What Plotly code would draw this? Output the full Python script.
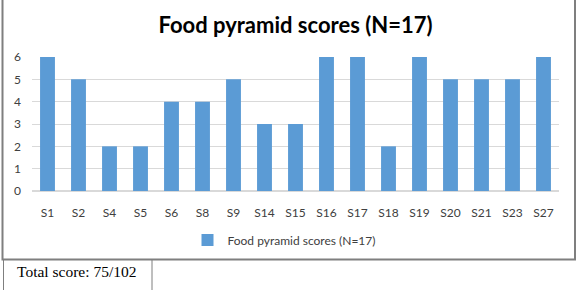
import plotly.graph_objects as go

categories = ["S1", "S2", "S4", "S5", "S6", "S8", "S9", "S14", "S15", "S16",
              "S17", "S18", "S19", "S20", "S21", "S23", "S27"]
scores = [6, 5, 2, 2, 4, 4, 5, 3, 3, 6, 6, 2, 6, 5, 5, 5, 6]
series_name = "Food pyramid scores (N=17)"
chart_title = "Food pyramid scores (N=17)"
y_ticks = [0, 1, 2, 3, 4, 5, 6]
footer_text = "Total score: 75/102"

W, H = 582, 290
L, R, T, B = 32, 23, 57, 99
pw = W - L - R
ph = H - T - B

def px_x(x):
    return (x - L) / pw

def px_y(y):
    return (H - B - y) / ph

font = "Lato, Open Sans, sans-serif"

fig = go.Figure()
fig.add_trace(go.Bar(
    x=categories, y=scores, name=series_name,
    marker=dict(color="#5B9BD5", line=dict(width=0)),
    showlegend=True,
))

fig.update_layout(
    width=W, height=H,
    margin=dict(l=L, r=R, t=T, b=B),
    paper_bgcolor="white", plot_bgcolor="white",
    bargap=0.52,
    title=dict(text="<b>" + chart_title + "</b>", x=0.5, xref="paper",
               y=1 - 25 / H, yref="container", yanchor="middle", xanchor="center",
               font=dict(family=font, size=22, color="#000000")),
    xaxis=dict(showgrid=False, showline=False, ticks="", ticklabelstandoff=13,
               tickfont=dict(family=font, size=12, color="#404040")),
    yaxis=dict(range=[0, 6], tickvals=y_ticks, showgrid=True, gridcolor="#D9D9D9",
               gridwidth=1, zeroline=True, zerolinecolor="#D9D9D9", showline=False,
               ticks="", ticklen=0, ticklabelstandoff=10,
               tickfont=dict(family=font, size=12, color="#404040")),
    legend=dict(orientation="h", x=px_x(284), xanchor="center", xref="paper",
                y=px_y(240), yanchor="middle",
                font=dict(family=font, size=12, color="#404040"),
                itemwidth=30),
    shapes=[
        dict(type="rect", xref="paper", yref="paper",
             x0=px_x(2.5), x1=px_x(575), y0=px_y(259.5), y1=px_y(-5),
             line=dict(color="#7F7F7F", width=2), fillcolor="rgba(0,0,0,0)", layer="below"),
        dict(type="line", xref="paper", yref="paper",
             x0=px_x(3.5), x1=px_x(3.5), y0=px_y(259.5), y1=px_y(295),
             line=dict(color="#7F7F7F", width=1)),
        dict(type="line", xref="paper", yref="paper",
             x0=px_x(152), x1=px_x(152), y0=px_y(259.5), y1=px_y(295),
             line=dict(color="#7F7F7F", width=1)),
    ],
    annotations=[
        dict(text=footer_text, xref="paper", yref="paper", x=px_x(15), y=px_y(271),
             xanchor="left", yanchor="middle", showarrow=False,
             font=dict(family="Liberation Serif, serif", size=15.5, color="#000000")),
    ],
)

fig.write_html("out.html")
